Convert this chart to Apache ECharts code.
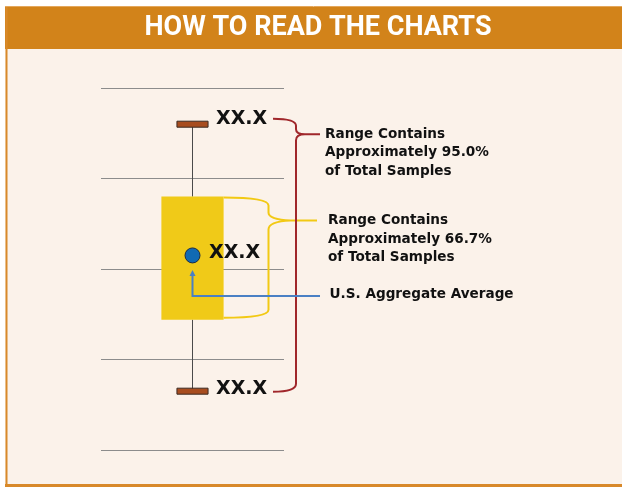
<!DOCTYPE html>
<html>
<head>
<meta charset="utf-8">
<title>How to read the charts</title>
<script src="https://cdn.jsdelivr.net/npm/echarts@6/dist/echarts.min.js"></script>
<style>
  html, body { margin: 0; padding: 0; background: #fff; }
  #chart { width: 622px; height: 487px; }
</style>
</head>
<body>
<div id="chart"></div>
<script>
// one example box (axis 0..4)
const categories = ['Sample'];
const lowValues = [0.65];
const q1Values = [1.44];
const meanValues = [2.15];
const q3Values = [2.8];
const highValues = [3.6];
const valueLabels = ['XX.X'];

const titleText = 'HOW TO READ THE CHARTS';
const note95 = ['Range Contains', 'Approximately 95.0%', 'of Total Samples'];
const note667 = ['Range Contains', 'Approximately 66.7%', 'of Total Samples'];
const noteMean = ['U.S. Aggregate Average'];

const seriesData = categories.map(function (c, i) {
  return [i, lowValues[i], q1Values[i], meanValues[i], q3Values[i], highValues[i]];
});

const labelFont = 'bold 19px "DejaVu Sans"';
const noteFont = 'bold 13.6px "DejaVu Sans"';

function txt(text, x, y, font, align, lineHeight) {
  return {
    type: 'text',
    style: {
      text: text, x: x, y: y, font: font, fill: '#111',
      align: align || 'left', verticalAlign: 'middle',
      textAlign: align || 'left', textVerticalAlign: 'middle',
      lineHeight: lineHeight || undefined
    }
  };
}

function renderItem(params, api) {
  var i = params.dataIndex;
  var x = api.value(0);
  var low = api.coord([x, api.value(1)]);
  var q1 = api.coord([x, api.value(2)]);
  var mean = api.coord([x, api.value(3)]);
  var q3 = api.coord([x, api.value(4)]);
  var high = api.coord([x, api.value(5)]);
  var band = api.size([1, 0])[0];
  var cx = high[0];
  var boxW = band * 0.34;
  var capW = band * 0.17;
  var capH = 6;
  var lbl = valueLabels[i];

  // red brace (95%)
  var rx = cx + 103.5, rTop = high[1] - 5.5, rTip = high[1] + 10, rBot = low[1] + 0.5;
  var rStart = cx + 80.5, rEnd = cx + 127.5;
  var redPath =
    'M' + rStart + ' ' + rTop + ' Q' + rx + ' ' + rTop + ' ' + rx + ' ' + (rTop + 7) +
    ' L' + rx + ' ' + (rTip - 5) + ' Q' + rx + ' ' + rTip + ' ' + (rx + 9) + ' ' + rTip +
    ' L' + rEnd + ' ' + rTip +
    ' M' + (rx + 9) + ' ' + rTip + ' Q' + rx + ' ' + rTip + ' ' + rx + ' ' + (rTip + 6) +
    ' L' + rx + ' ' + (rBot - 8) + ' Q' + rx + ' ' + rBot + ' ' + rStart + ' ' + rBot;

  // yellow brace (66.7%)
  var yx = cx + 76, yTop = q3[1] + 1, yTip = q3[1] + 24, yBot = q1[1] - 2;
  var yStart = cx + boxW / 2, yEnd = cx + 124.5;
  var yellowPath =
    'M' + yStart + ' ' + yTop + ' Q' + yx + ' ' + yTop + ' ' + yx + ' ' + (yTop + 8) +
    ' L' + yx + ' ' + (yTip - 8) + ' Q' + yx + ' ' + (yTip - 1) + ' ' + (yx + 22) + ' ' + yTip +
    ' L' + yEnd + ' ' + yTip +
    ' M' + (yx + 22) + ' ' + yTip + ' Q' + yx + ' ' + (yTip + 1) + ' ' + yx + ' ' + (yTip + 9) +
    ' L' + yx + ' ' + (yBot - 8) + ' Q' + yx + ' ' + yBot + ' ' + yStart + ' ' + yBot;

  // blue pointer to the mean
  var bTip = mean[1] + 15.5, bY = mean[1] + 40.5, bEnd = cx + 127.5;

  return {
    type: 'group',
    children: [
      { type: 'line', shape: { x1: cx, y1: high[1], x2: cx, y2: q3[1] }, style: { stroke: '#4a4a4a', lineWidth: 1 } },
      { type: 'line', shape: { x1: cx, y1: q1[1], x2: cx, y2: low[1] }, style: { stroke: '#4a4a4a', lineWidth: 1 } },
      { type: 'rect', shape: { x: cx - boxW / 2, y: q3[1], width: boxW, height: q1[1] - q3[1] }, style: { fill: '#F0CA18' } },
      { type: 'rect', shape: { x: cx - capW / 2, y: high[1] - capH / 2, width: capW, height: capH }, style: { fill: '#A84D1F', stroke: '#3b2a22', lineWidth: 1 } },
      { type: 'rect', shape: { x: cx - capW / 2, y: low[1] - capH / 2, width: capW, height: capH }, style: { fill: '#A84D1F', stroke: '#3b2a22', lineWidth: 1 } },
      { type: 'path', shape: { pathData: yellowPath }, style: { fill: null, stroke: '#F2C914', lineWidth: 2 } },
      { type: 'path', shape: { pathData: redPath }, style: { fill: null, stroke: '#A0272B', lineWidth: 2 } },
      { type: 'polyline', shape: { points: [[cx, bTip + 4], [cx, bY], [bEnd, bY]] }, style: { fill: null, stroke: '#4A80C4', lineWidth: 2 } },
      { type: 'polygon', shape: { points: [[cx, bTip - 1], [cx - 3, bTip + 5], [cx + 3, bTip + 5]] }, style: { fill: '#4A80C4' } },
      { type: 'circle', shape: { cx: cx, cy: mean[1], r: 7.5 }, style: { fill: '#116AB3', stroke: '#1b2b45', lineWidth: 1 } },
      txt(lbl, cx + capW / 2 + 8, high[1] - 5, labelFont),
      txt(lbl, cx + 16.5, mean[1] - 2, labelFont),
      txt(lbl, cx + capW / 2 + 8, low[1] - 2, labelFont),
      txt(note95.join('\n'), cx + 132.5, rTip + 18.5, noteFont, 'left', 18.5),
      txt(note667.join('\n'), cx + 135.5, yTip + 18.5, noteFont, 'left', 18.5),
      txt(noteMean.join('\n'), cx + 137, bY - 1, noteFont)
    ]
  };
}

var chart = echarts.init(document.getElementById('chart'));
chart.setOption({
  backgroundColor: '#ffffff',
  animation: false,
  title: {
    text: titleText,
    left: 318,
    top: 13,
    padding: 0,
    textAlign: 'center',
    textStyle: { color: '#fff', fontFamily: 'Roboto', fontWeight: 'bold', fontSize: 27, lineHeight: 30 }
  },
  graphic: [
    { type: 'rect', z: -100, shape: { x: 5, y: 7, width: 617, height: 480 }, style: { fill: '#FBF2EA' } },
    { type: 'rect', z: -99, shape: { x: 5, y: 7, width: 617, height: 42 }, style: { fill: '#D2831A' } },
    { type: 'line', z: -98, shape: { x1: 5, y1: 6.5, x2: 622, y2: 6.5 }, style: { stroke: '#E4A75C', lineWidth: 1 } },
    { type: 'line', z: -98, shape: { x1: 6.5, y1: 7, x2: 6.5, y2: 487 }, style: { stroke: '#D8892A', lineWidth: 2 } },
    { type: 'line', z: -98, shape: { x1: 5, y1: 485.5, x2: 622, y2: 485.5 }, style: { stroke: '#D8892A', lineWidth: 3 } }
  ],
  grid: { left: 101, right: 338, top: 88, bottom: 37 },
  xAxis: {
    type: 'category',
    data: categories,
    axisLine: { show: false },
    axisTick: { show: false },
    axisLabel: { show: false },
    splitLine: { show: false }
  },
  yAxis: {
    type: 'value',
    min: 0,
    max: 4,
    interval: 1,
    axisLine: { show: false },
    axisTick: { show: false },
    axisLabel: { show: false },
    splitLine: { lineStyle: { color: '#8c8c8c', width: 1 } }
  },
  series: [{
    type: 'custom',
    clip: false,
    renderItem: renderItem,
    encode: { x: 0, y: [1, 2, 3, 4, 5] },
    data: seriesData
  }]
});
</script>
</body>
</html>
